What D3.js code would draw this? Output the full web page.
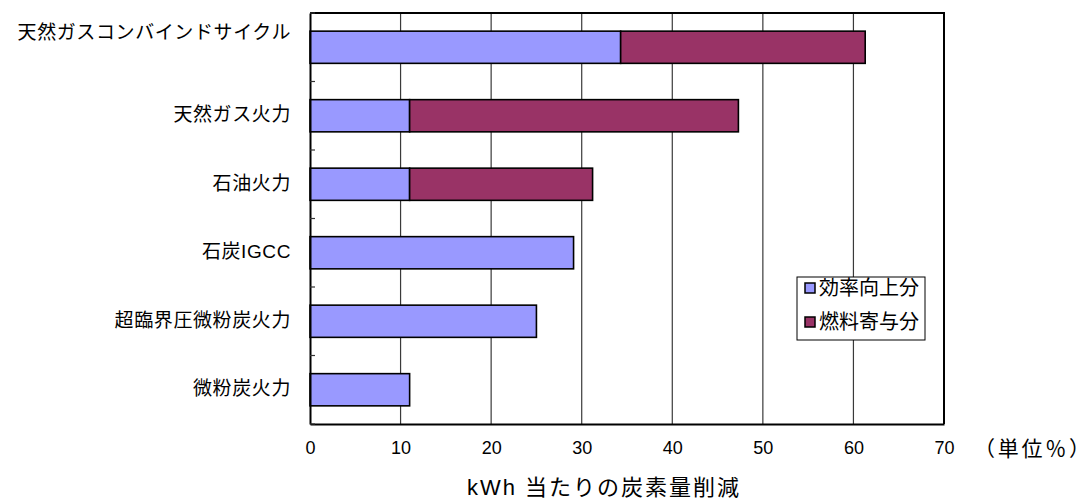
<!DOCTYPE html>
<html>
<head>
<meta charset="utf-8">
<script src="https://cdn.jsdelivr.net/npm/d3@7"></script>
<style>
  html, body { margin: 0; padding: 0; background: #fff; }
  svg { display: block; }
</style>
</head>
<body>
<svg id="chart" width="1092" height="501"></svg>
<script>
// Carbon reduction per kWh by generation technology (unit: %)
const categories = [
  "天然ガスコンバインドサイクル",
  "天然ガス火力",
  "石油火力",
  "石炭IGCC",
  "超臨界圧微粉炭火力",
  "微粉炭火力"
];
const seriesNames = ["効率向上分", "燃料寄与分"];
const efficiencyGain = [34.3, 11.0, 11.0, 29.1, 25.0, 11.0];
const fuelContribution = [27.0, 36.3, 20.2, 0, 0, 0];
const xTicks = [0, 10, 20, 30, 40, 50, 60, 70];
const unitLabel = "（単位％）";
const axisTitle = "kWh 当たりの炭素量削減";

const colors = ["#9999FF", "#993366"];
const cjk = "'Liberation Sans', 'Noto Sans CJK JP', sans-serif";

const svg = d3.select("#chart");
const plot = { left: 310, right: 944, top: 13, bottom: 424 };

const x = d3.scaleLinear().domain([0, 70]).range([plot.left, plot.right]);
const y = d3.scaleBand().domain(categories)
  .range([plot.top, plot.bottom])
  .paddingInner(0.53).paddingOuter(0.265);

// vertical gridlines
svg.append("g").selectAll("line")
  .data(xTicks.filter(t => t > 0 && t < 70))
  .join("line")
  .attr("x1", d => x(d)).attr("x2", d => x(d))
  .attr("y1", plot.top).attr("y2", plot.bottom)
  .attr("stroke", "#3a3a3a").attr("stroke-width", 1.2);

// stacked bars
const rows = categories.map((c, i) => ({ cat: c, v: [efficiencyGain[i], fuelContribution[i]] }));
const stack = d3.stack().keys([0, 1]).value((d, k) => d.v[k]);
const layers = stack(rows);

svg.append("g").selectAll("g")
  .data(layers)
  .join("g")
  .attr("fill", (d, i) => colors[i])
  .selectAll("rect")
  .data(d => d.filter(s => s[1] - s[0] > 0))
  .join("rect")
  .attr("x", d => x(d[0]))
  .attr("y", d => y(d.data.cat))
  .attr("width", d => x(d[1]) - x(d[0]))
  .attr("height", y.bandwidth())
  .attr("stroke", "#000")
  .attr("stroke-width", 1.6);

// frame: top and right border
svg.append("path")
  .attr("d", `M${plot.left},${plot.top}H${plot.right}V${plot.bottom}`)
  .attr("fill", "none").attr("stroke", "#000").attr("stroke-width", 2);

// x axis
const xAxis = svg.append("g")
  .attr("transform", `translate(0,${plot.bottom})`)
  .call(d3.axisBottom(x).tickValues(xTicks).tickSize(0).tickPadding(17));
xAxis.select(".domain").attr("stroke", "#000").attr("stroke-width", 2);
xAxis.selectAll("text")
  .attr("font-family", "'Liberation Sans', Arial, sans-serif")
  .attr("font-size", 18).attr("fill", "#000");

// y axis with category labels
const yAxis = svg.append("g")
  .attr("transform", `translate(${plot.left},0)`)
  .call(d3.axisLeft(y).tickSize(0).tickFormat(() => ""));
yAxis.select(".domain").attr("stroke", "#000").attr("stroke-width", 2);

// small tick marks between categories
const step = y.step();
svg.append("g").selectAll("line")
  .data(d3.range(categories.length + 1))
  .join("line")
  .attr("x1", plot.left).attr("x2", plot.left + 5)
  .attr("y1", i => plot.top + i * step).attr("y2", i => plot.top + i * step)
  .attr("stroke", "#333").attr("stroke-width", 1.2);

svg.append("g").selectAll("text")
  .data(categories)
  .join("text")
  .attr("x", 291)
  .attr("y", (d, i) => y(d) + y.bandwidth() / 2 + (i === 0 ? -15 : -1))
  .attr("dy", "0.35em")
  .attr("text-anchor", "end")
  .attr("font-family", cjk)
  .attr("font-size", 19)
  .attr("letter-spacing", 0.6)
  .attr("fill", "#000")
  .text(d => d);

// unit label next to the last tick
svg.append("text")
  .attr("x", 974).attr("y", 456)
  .attr("font-family", cjk)
  .attr("font-size", 21)
  .attr("textLength", 116)
  .attr("lengthAdjust", "spacing")
  .attr("fill", "#000")
  .text(unitLabel);

// axis title
svg.append("text")
  .attr("x", 467).attr("y", 495)
  .attr("font-family", cjk)
  .attr("font-size", 22)
  .attr("textLength", 272)
  .attr("lengthAdjust", "spacing")
  .attr("fill", "#000")
  .text(axisTitle);

// legend
const legend = svg.append("g").attr("transform", "translate(797,277)");
legend.append("rect")
  .attr("width", 128).attr("height", 63)
  .attr("fill", "#fff").attr("stroke", "#000").attr("stroke-width", 1);
const item = legend.selectAll("g.item")
  .data(seriesNames)
  .join("g")
  .attr("class", "item")
  .attr("transform", (d, i) => `translate(8,${6 + i * 34})`);
item.append("rect")
  .attr("width", 10).attr("height", 10)
  .attr("fill", (d, i) => colors[i])
  .attr("stroke", "#000").attr("stroke-width", 1.5);
item.append("text")
  .attr("x", 14).attr("y", 5)
  .attr("dy", "0.36em")
  .attr("font-family", cjk)
  .attr("font-size", 20)
  .attr("fill", "#000")
  .text(d => d);
</script>
</body>
</html>
